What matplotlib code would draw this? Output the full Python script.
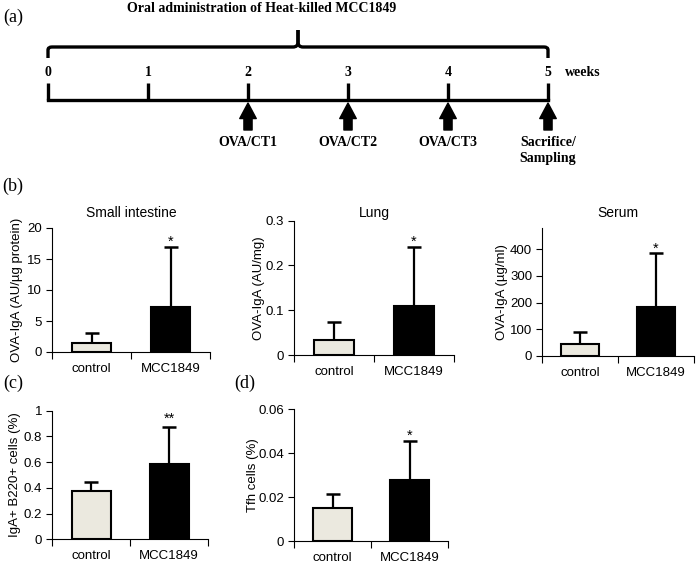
import numpy as np
import matplotlib
matplotlib.use('Agg')
import matplotlib.pyplot as plt
from matplotlib.path import Path
from matplotlib.patches import PathPatch
from matplotlib.ticker import FormatStrFormatter

plt.rcParams['font.family'] = ['Liberation Sans', 'DejaVu Sans']
plt.rcParams['font.size'] = 9.5
SERIF = ['Liberation Serif', 'DejaVu Serif']

W, H = 699, 565

# (a) schedule
weeks = [0, 1, 2, 3, 4, 5]
event_weeks = [2, 3, 4, 5]
event_labels = ['OVA/CT1', 'OVA/CT2', 'OVA/CT3', 'Sacrifice/\nSampling']
brace_label = 'Oral administration of Heat-killed MCC1849'

# (b)-(d) bar data: mean and SD (upper error only)
groups = ['control', 'MCC1849']
si_mean = [1.5, 7.3]
si_sd = [1.5, 9.7]
lung_mean = [0.033, 0.109]
lung_sd = [0.041, 0.133]
serum_mean = [44, 185]
serum_sd = [46, 200]
b220_mean = [0.373, 0.588]
b220_sd = [0.07, 0.288]
tfh_mean = [0.0152, 0.0279]
tfh_sd = [0.0063, 0.0176]

ctrl_color = '#ebe9df'

fig = plt.figure(figsize=(W / 100, H / 100), dpi=100)


def px_axes(left, right, top, bottom):
    return fig.add_axes([left / W, 1 - bottom / H, (right - left) / W, (bottom - top) / H])


# ---------- (a) timeline, x in weeks, y in pixels from top ----------
ax_a = fig.add_axes([0, 1 - 180 / H, 1, 180 / H])
ax_a.set_xlim(-0.48, 6.51)
ax_a.set_ylim(180, 0)
ax_a.axis('off')

lw = 2.4
ax_a.plot([weeks[0], weeks[-1]], [100, 100], color='black', lw=lw, solid_capstyle='projecting')
ax_a.vlines(weeks, 83, 100, color='black', lw=lw)
for w in weeks:
    ax_a.text(w, 72, str(w), ha='center', va='center', family=SERIF,
              fontweight='bold', fontsize=10)
ax_a.text(weeks[-1] + 0.17, 72, 'weeks', ha='left', va='center', family=SERIF,
          fontweight='bold', fontsize=10)

# brace over the whole period
mid = (weeks[0] + weeks[-1]) / 2
for s, e in [(weeks[0], 1), (weeks[-1], -1)]:
    verts = [(s, 58), (s, 50), (s, 47), (s + e * 0.04, 47),
             (mid - e * 0.05, 47), (mid, 47), (mid, 42), (mid, 30)]
    codes = [Path.MOVETO, Path.LINETO, Path.CURVE3, Path.CURVE3,
             Path.LINETO, Path.CURVE3, Path.CURVE3, Path.LINETO]
    ax_a.add_patch(PathPatch(Path(verts, codes), fill=False, lw=lw, color='black'))
ax_a.text(2.14, 9, brace_label, ha='center', va='center', family=SERIF,
          fontweight='bold', fontsize=10)

for w, lab in zip(event_weeks, event_labels):
    ax_a.annotate('', xy=(w, 103), xytext=(w, 130),
                  arrowprops=dict(arrowstyle='simple,head_length=0.8,head_width=0.85,tail_width=0.42',
                                  mutation_scale=14, color='black', shrinkA=0, shrinkB=0))
    ax_a.text(w, 136, lab, ha='center', va='top', family=SERIF,
              fontweight='bold', fontsize=10, linespacing=1.25)

# panel letters
for lab, x, y in [('(a)', 3, 17), ('(b)', 2, 186), ('(c)', 3, 383), ('(d)', 234, 383)]:
    fig.text(x / W, 1 - y / H, lab, ha='left', va='center', family=SERIF, fontsize=13)


# ---------- bar panels ----------
def bar_panel(box, means, sds, ylim, yticks, ylabel, label_right, star, star_off, title=None):
    left, right, top, bottom = box
    ax = px_axes(left, right, top, bottom)
    x = np.arange(len(groups))
    ax.errorbar(x, means, yerr=[np.zeros(len(sds)), sds], fmt='none', ecolor='black',
                elinewidth=1.6, capsize=5, capthick=1.8, zorder=1)
    ax.bar(x, means, width=0.5, color=[ctrl_color, 'black'], edgecolor='black',
           linewidth=1.5, zorder=2)
    ax.set_xlim(-0.5, len(groups) - 0.5)
    ax.set_ylim(*ylim)
    ax.set_xticks(x)
    ax.set_xticklabels(groups)
    ax.set_xticks(np.arange(len(groups) + 1) - 0.5, minor=True)
    ax.tick_params(axis='x', which='major', length=0, pad=8)
    ax.tick_params(axis='x', which='minor', length=5, width=0.8)
    ax.set_yticks(yticks)
    ax.yaxis.set_major_formatter(FormatStrFormatter('%g'))
    ax.tick_params(axis='y', length=4, width=0.8, pad=3)
    for sp in ['top', 'right']:
        ax.spines[sp].set_visible(False)
    for sp in ['left', 'bottom']:
        ax.spines[sp].set_linewidth(0.8)
    ax.set_ylabel(ylabel)
    ax.yaxis.set_label_coords((label_right - left) / (right - left), 0.5)
    ax.annotate(star, (1, means[1] + sds[1]), xytext=(0, star_off),
                textcoords='offset points', ha='center', va='bottom', fontsize=10.5)
    if title:
        fig.text((left + right) / 2 / W, 1 - 213 / H, title, ha='center',
                 va='center', fontsize=10)
    return ax


bar_panel((52, 210, 228, 352), si_mean, si_sd, (0, 20), [0, 5, 10, 15, 20],
          'OVA-IgA (AU/µg protein)', 23, '*', -1.5, 'Small intestine')
bar_panel((294, 454, 220.7, 355), lung_mean, lung_sd, (0, 0.3), [0, 0.1, 0.2, 0.3],
          'OVA-IgA (AU/mg)', 265, '*', -1.5, 'Lung')
bar_panel((542, 694, 228, 356), serum_mean, serum_sd, (0, 480), [0, 100, 200, 300, 400],
          'OVA-IgA (µg/ml)', 508, '*', -1.5, 'Serum')
bar_panel((52, 208, 410.7, 539.3), b220_mean, b220_sd, (0, 1), [0, 0.2, 0.4, 0.6, 0.8, 1],
          'IgA+ B220+ cells (%)', 21, '**', 0.5)
bar_panel((294, 448, 409, 541), tfh_mean, tfh_sd, (0, 0.06), [0, 0.02, 0.04, 0.06],
          'Tfh cells (%)', 259, '*', -1.5)

plt.savefig('out.png', dpi=100)
